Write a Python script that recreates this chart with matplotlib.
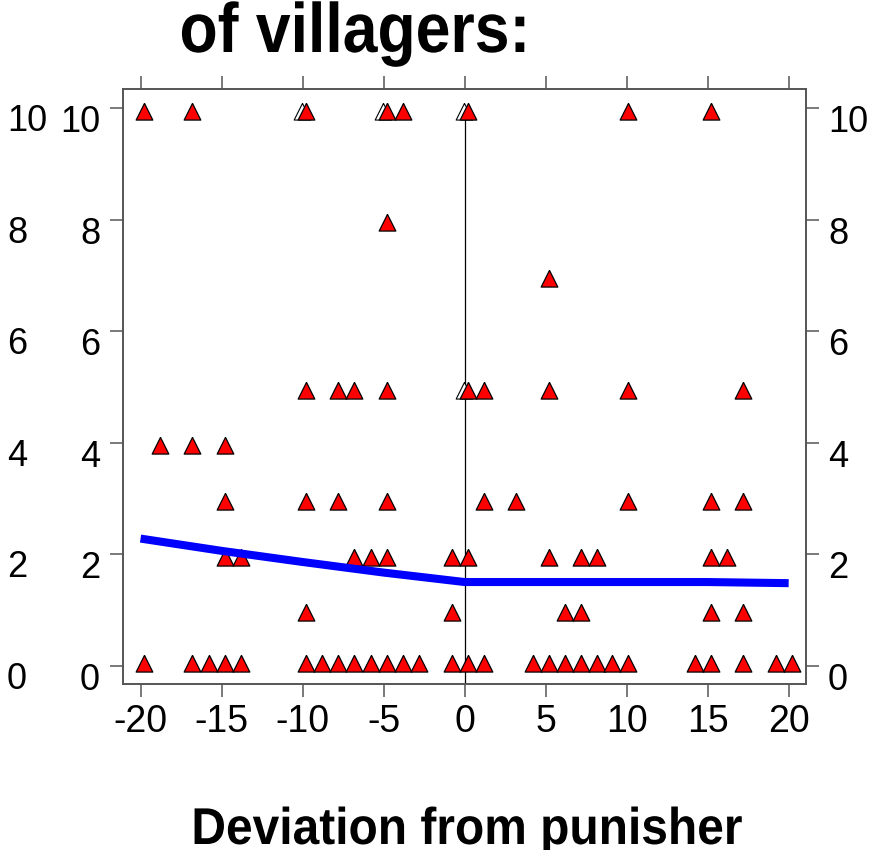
import matplotlib
matplotlib.use("Agg")
import matplotlib.pyplot as plt
from matplotlib import transforms
from matplotlib.patheffects import AbstractPathEffect

plt.rcParams['font.family'] = ['Liberation Sans', 'DejaVu Sans']

# =====================
# 1. Data: deviation from punisher (x) for each outcome row (y)
# =====================
row_levels = [9.9, 7.9, 6.9, 4.9, 3.9, 2.9, 1.9, 0.9, 0.0]
row_x = [
    [-19.8, -16.8, -9.8, -4.8, -3.8, 0.2, 10.1, 15.2],
    [-4.8],
    [5.2],
    [-9.8, -7.8, -6.8, -4.8, 0.2, 1.2, 5.2, 10.1, 17.2],
    [-18.8, -16.8, -14.8],
    [-14.8, -9.8, -7.8, -4.8, 1.2, 3.2, 10.1, 15.2, 17.2],
    [-14.8, -13.8, -6.8, -5.8, -4.8, -0.8, 0.2, 5.2, 7.2, 8.2, 15.2, 16.2],
    [-9.8, -0.8, 6.2, 7.2, 15.2, 17.2],
    [-19.8, -16.8, -15.8, -14.8, -13.8, -9.8, -8.8, -7.8, -6.8, -5.8,
     -4.8, -3.8, -2.8, -0.8, 0.2, 1.2, 4.2, 5.2, 6.2, 7.2, 8.2, 9.1,
     10.1, 14.2, 15.2, 17.2, 19.2, 20.2],
]

# hollow points partly hidden behind the filled ones
hollow_x = [-10.05, -5.05, -0.05, -0.05]
hollow_y = [9.9, 9.9, 9.9, 4.9]

# smoothed trend
fit_x = [-20, -15, -10, -5, 0, 5, 10, 15, 20]
fit_y = [2.28, 2.06, 1.86, 1.67, 1.50, 1.50, 1.50, 1.50, 1.48]

x_ticks = [-20, -15, -10, -5, 0, 5, 10, 15, 20]
y_ticks = [0, 2, 4, 6, 8, 10]

pts_x = [x for xs in row_x for x in xs]
pts_y = [lv for lv, xs in zip(row_levels, row_x) for _ in xs]

# triangle with its centroid on the point
tri = [(0, 1), (0.75, -0.5), (-0.75, -0.5), (0, 1)]


class VStretch(AbstractPathEffect):
    """Stretch text vertically about its baseline (display y0)."""

    def __init__(self, sy, y0):
        super().__init__()
        self.sy = sy
        self.y0 = y0

    def draw_path(self, renderer, gc, tpath, affine, rgbFace=None):
        st = (transforms.Affine2D().translate(0, -self.y0)
              .scale(1, self.sy).translate(0, self.y0))
        renderer.draw_path(gc, tpath, affine + st, rgbFace)


# =====================
# 2. Figure
# =====================
W, H = 871, 850
fig = plt.figure(figsize=(W / 100, H / 100), dpi=100)
ax = fig.add_axes([0.1409, 0.1953, 0.7841, 0.7])
ax.set_xlim(-21.1, 21.05)
ax.set_ylim(-0.33, 10.35)

ax.plot([0, 0], [-0.33, 9.9], color='black', lw=0.9, zorder=1)

ax.plot(hollow_x, hollow_y, linestyle='none', marker=tri, markersize=16,
        markerfacecolor='white', markeredgecolor='black',
        markeredgewidth=0.8, zorder=2)
ax.plot(pts_x, pts_y, linestyle='none', marker=tri, markersize=16,
        markerfacecolor='#ff0000', markeredgecolor='black',
        markeredgewidth=0.9, zorder=3)

ax.plot(fit_x, fit_y, color='#0000ff', lw=5.8, solid_capstyle='butt',
        zorder=4)

for s in ax.spines.values():
    s.set_color('#555555')
    s.set_linewidth(1.4)

ax.set_xticks(x_ticks)
ax.set_yticks(y_ticks)
ax.tick_params(direction='out', length=9.4, width=1.1, color='#555555',
               top=True, right=True, labelbottom=False, labelleft=False)

# tick labels sit a little below their ticks
px = 72 / 100
tr_left = transforms.offset_copy(ax.get_yaxis_transform(), fig=fig,
                                 x=-22.7 * px, y=-24 * px, units='points')
tr_right = transforms.offset_copy(ax.get_yaxis_transform(), fig=fig,
                                  x=22.3 * px, y=-24 * px, units='points')
tr_bottom = transforms.offset_copy(ax.get_xaxis_transform(), fig=fig,
                                   x=0, y=-48 * px, units='points')
tr_edge = transforms.offset_copy(
    transforms.blended_transform_factory(fig.transFigure, ax.transData),
    fig=fig, x=0, y=-23 * px, units='points')

for v in y_ticks:
    ax.text(0, v, str(v), transform=tr_left, ha='right', va='baseline',
            fontsize=26)
    ax.text(1, v, str(v), transform=tr_right, ha='left', va='baseline',
            fontsize=26)
    # labels of the neighbouring panel at the left edge
    fig.text(7 / W, v, str(v), transform=tr_edge, ha='left',
             va='baseline', fontsize=26)

for v in x_ticks:
    ax.text(v, 0, str(v), transform=tr_bottom, ha='center', va='baseline',
            fontsize=27)

title_base = H - 52
fig.text(355 / W, title_base / H, 'of villagers:', ha='center',
         va='baseline', fontsize=45, fontweight='bold',
         path_effects=[VStretch(1.12, title_base)])
xlab_base = 6
fig.text(467 / W, xlab_base / H, 'Deviation from punisher', ha='center',
         va='baseline', fontsize=34.5, fontweight='bold',
         path_effects=[VStretch(1.08, xlab_base)])

fig.savefig('out.png', dpi=100)
